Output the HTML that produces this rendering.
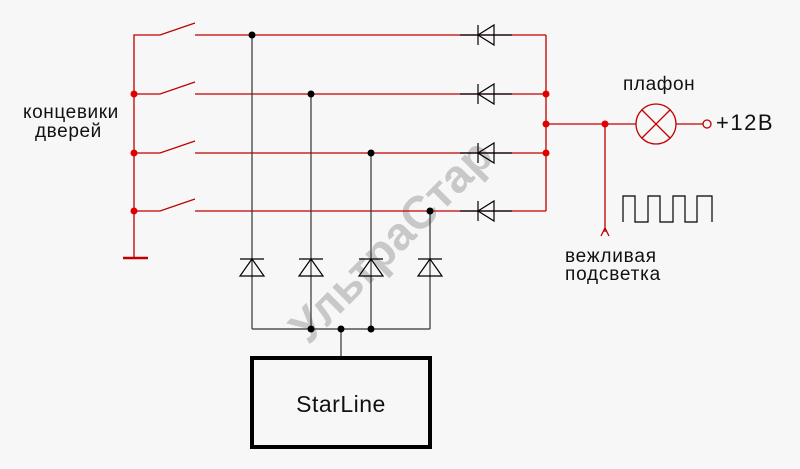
<!DOCTYPE html>
<html><head><meta charset="utf-8"><style>
html,body{margin:0;padding:0;background:#f7f7f7;}
svg{display:block;}
text{font-family:"Liberation Sans","DejaVu Sans",sans-serif;}
</style></head><body>
<svg width="800" height="469" viewBox="0 0 800 469" xmlns="http://www.w3.org/2000/svg">
<rect width="800" height="469" fill="#f7f7f7"/>
<text x="402" y="252" font-size="46" font-weight="bold" fill="#c8c8c8" transform="rotate(-45 402 252)" text-anchor="middle">УльтраСтар</text>
<g stroke="#c00000" stroke-width="1.3" fill="none">
<polyline points="134,258 134,35 160,35 195,23"/>
<line x1="195" y1="35" x2="546" y2="35"/>
<polyline points="134,94 160,94 195,82"/><line x1="195" y1="94" x2="546" y2="94"/>
<polyline points="134,153 160,153 195,141"/><line x1="195" y1="153" x2="546" y2="153"/>
<polyline points="134,211 160,211 195,199"/><line x1="195" y1="211" x2="546" y2="211"/>
<line x1="546" y1="35" x2="546" y2="211"/>
<line x1="123" y1="258" x2="148" y2="258" stroke-width="2.5"/>
<line x1="546" y1="124" x2="636" y2="124"/>
<line x1="605" y1="124" x2="605" y2="232"/>
<polyline points="601,236 605,228 609,236"/>
<circle cx="656" cy="124" r="20"/>
<line x1="642" y1="110" x2="670" y2="138"/><line x1="670" y1="110" x2="642" y2="138"/>
<line x1="676" y1="124" x2="703" y2="124"/>
<circle cx="707" cy="124" r="4"/>
</g>
<g fill="#e00000">
<circle cx="134" cy="94" r="3.5"/><circle cx="134" cy="153" r="3.5"/><circle cx="134" cy="211" r="3.5"/>
<circle cx="546" cy="94" r="3.5"/><circle cx="546" cy="124" r="3.5"/><circle cx="546" cy="153" r="3.5"/>
<circle cx="605" cy="124" r="3.5"/>
</g>
<g stroke="#000" stroke-width="1.2" fill="none">
<g id="rd"><line x1="460" y1="35" x2="512" y2="35"/><line x1="478" y1="25" x2="478" y2="45"/><polygon points="478,35 494,25 494,45"/></g>
<use href="#rd" y="59"/><use href="#rd" y="118"/><use href="#rd" y="176"/>
</g>
<g stroke="#333" stroke-width="1.2" fill="none">
<line x1="252" y1="35" x2="252" y2="329"/>
<line x1="311" y1="94" x2="311" y2="329"/>
<line x1="371" y1="153" x2="371" y2="329"/>
<line x1="430" y1="211" x2="430" y2="329"/>
<line x1="252" y1="329" x2="430" y2="329"/>
<line x1="341" y1="329" x2="341" y2="357"/>
</g>
<g stroke="#000" stroke-width="1.2" fill="none">
<g id="bd"><line x1="240" y1="259" x2="264" y2="259"/><polygon points="252,259 240,276 264,276"/></g>
<use href="#bd" x="59"/><use href="#bd" x="119"/><use href="#bd" x="178"/>
<polyline points="623,222 623,196 635,196 635,222 648,222 648,196 660,196 660,222 673,222 673,196 685,196 685,222 697,222 697,196 712,196 712,222"/>
</g>
<g fill="#000">
<circle cx="252" cy="35" r="3.5"/><circle cx="311" cy="94" r="3.5"/><circle cx="371" cy="153" r="3.5"/><circle cx="430" cy="211" r="3.5"/>
<circle cx="311" cy="329" r="3.5"/><circle cx="341" cy="329" r="3.5"/><circle cx="371" cy="329" r="3.5"/>
</g>
<rect x="252" y="358" width="178" height="89" fill="none" stroke="#000" stroke-width="4"/>
<text x="341" y="412" font-size="23" text-anchor="middle" fill="#111" letter-spacing="0.5">StarLine</text>
<text x="23" y="118" font-size="19" fill="#111" letter-spacing="0.6">концевики</text>
<text x="35" y="137" font-size="19" fill="#111" letter-spacing="0.6">дверей</text>
<text x="623" y="90" font-size="19" fill="#111" letter-spacing="0.6">плафон</text>
<text x="716" y="130" font-size="22" fill="#111" letter-spacing="1.5">+12В</text>
<text x="565" y="262" font-size="19" fill="#111" letter-spacing="0.8">вежливая</text>
<text x="565" y="280" font-size="19" fill="#111" letter-spacing="0.8">подсветка</text>
</svg>
</body></html>
